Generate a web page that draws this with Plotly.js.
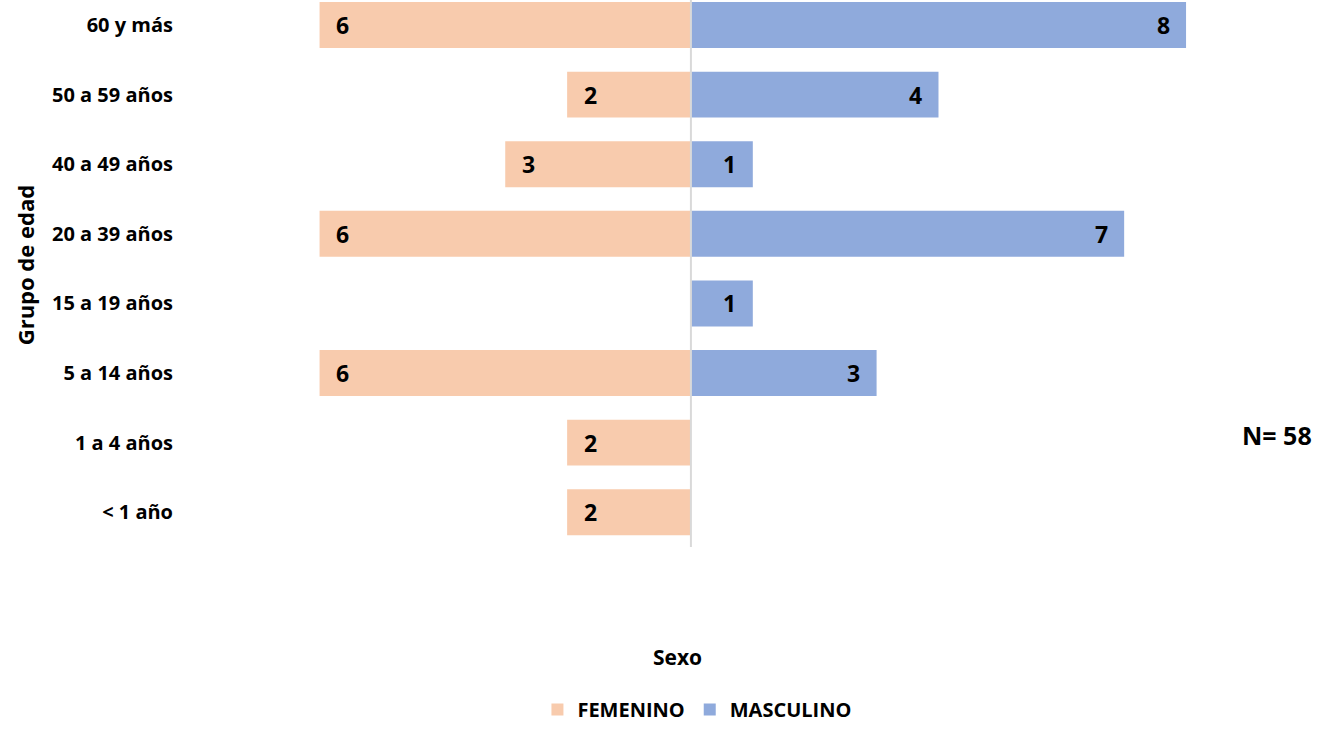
<!DOCTYPE html>
<html>
<head>
<meta charset="utf-8">
<script src="https://cdn.plot.ly/plotly-3.0.1.min.js"></script>
<style>html,body{margin:0;padding:0;background:#fff;}#chart{width:1317px;height:729px;}</style>
</head>
<body>
<div id="chart"></div>
<script>
const categorias = ['< 1 año','1 a 4 años','5 a 14 años','15 a 19 años','20 a 39 años','40 a 49 años','50 a 59 años','60 y más'];
const femenino = [2,2,6,0,6,3,2,6];
const masculino = [0,0,3,1,7,1,4,8];
const nombres = ['FEMENINO','MASCULINO'];
const totalTexto = 'N= 58';

const FONT = 'Open Sans, Liberation Sans, sans-serif';
const colF = '#F8CBAD';
const colM = '#8FAADC';

const traces = [
  {type:'bar', orientation:'h', name:nombres[0], y:categorias, x:femenino.map(v=>-v),
   marker:{color:colF}, hoverinfo:'skip'},
  {type:'bar', orientation:'h', name:nombres[1], y:categorias, x:masculino,
   marker:{color:colM}, hoverinfo:'skip'}
];

const ann = [];
femenino.forEach((v,i)=>{ if(v>0) ann.push({x:-v, y:categorias[i], xref:'x', yref:'y', text:'<b>'+v+'</b>', showarrow:false, xshift:23, font:{family:FONT,size:23,color:'#000'}}); });
masculino.forEach((v,i)=>{ if(v>0) ann.push({x:v, y:categorias[i], xref:'x', yref:'y', text:'<b>'+v+'</b>', showarrow:false, xshift:-23, font:{family:FONT,size:23,color:'#000'}}); });
ann.push({x:0.4793, xref:'paper', y:-0.201, yref:'paper', text:'<b>Sexo</b>', showarrow:false, xanchor:'center', yanchor:'middle', font:{family:FONT,size:21,color:'#000'}});
ann.push({x:-0.1495, xref:'paper', y:0.515, yref:'paper', text:'<b>Grupo de edad</b>', textangle:-90, showarrow:false, xanchor:'center', yanchor:'middle', font:{family:FONT,size:22,color:'#000'}});
ann.push({x:1.0579, xref:'paper', y:0.205, yref:'paper', text:'<b>'+totalTexto+'</b>', showarrow:false, xanchor:'center', yanchor:'middle', font:{family:FONT,size:25,color:'#000'}});

const layout = {
  width:1317, height:729,
  margin:{l:180, r:100, t:0, b:182, autoexpand:false},
  paper_bgcolor:'#fff', plot_bgcolor:'rgba(0,0,0,0)',
  barmode:'relative', bargap:0.34,
  xaxis:{range:[-8.255,8.5], showticklabels:false, showgrid:false, zeroline:false, showline:false, ticks:'', fixedrange:true},
  yaxis:{range:[-0.5,7.36], type:'category', showgrid:false, zeroline:false, showline:false, ticks:'', ticklabelstandoff:6,
         tickfont:{family:FONT, size:20, color:'#000', weight:'bold'}, fixedrange:true},
  shapes:[{type:'line', xref:'x', yref:'paper', x0:0, x1:0, y0:0, y1:1, layer:'above', line:{color:'#D9D9D9', width:2}}],
  annotations:ann,
  showlegend:true,
  legend:{orientation:'h', x:0.4985, xanchor:'center', y:-0.3327, yanchor:'bottom', traceorder:'normal',
          font:{family:FONT, size:20, color:'#000', weight:'bold'}, itemwidth:30}
};
Plotly.newPlot('chart', traces, layout, {displayModeBar:false, staticPlot:true});
</script>
</body>
</html>
